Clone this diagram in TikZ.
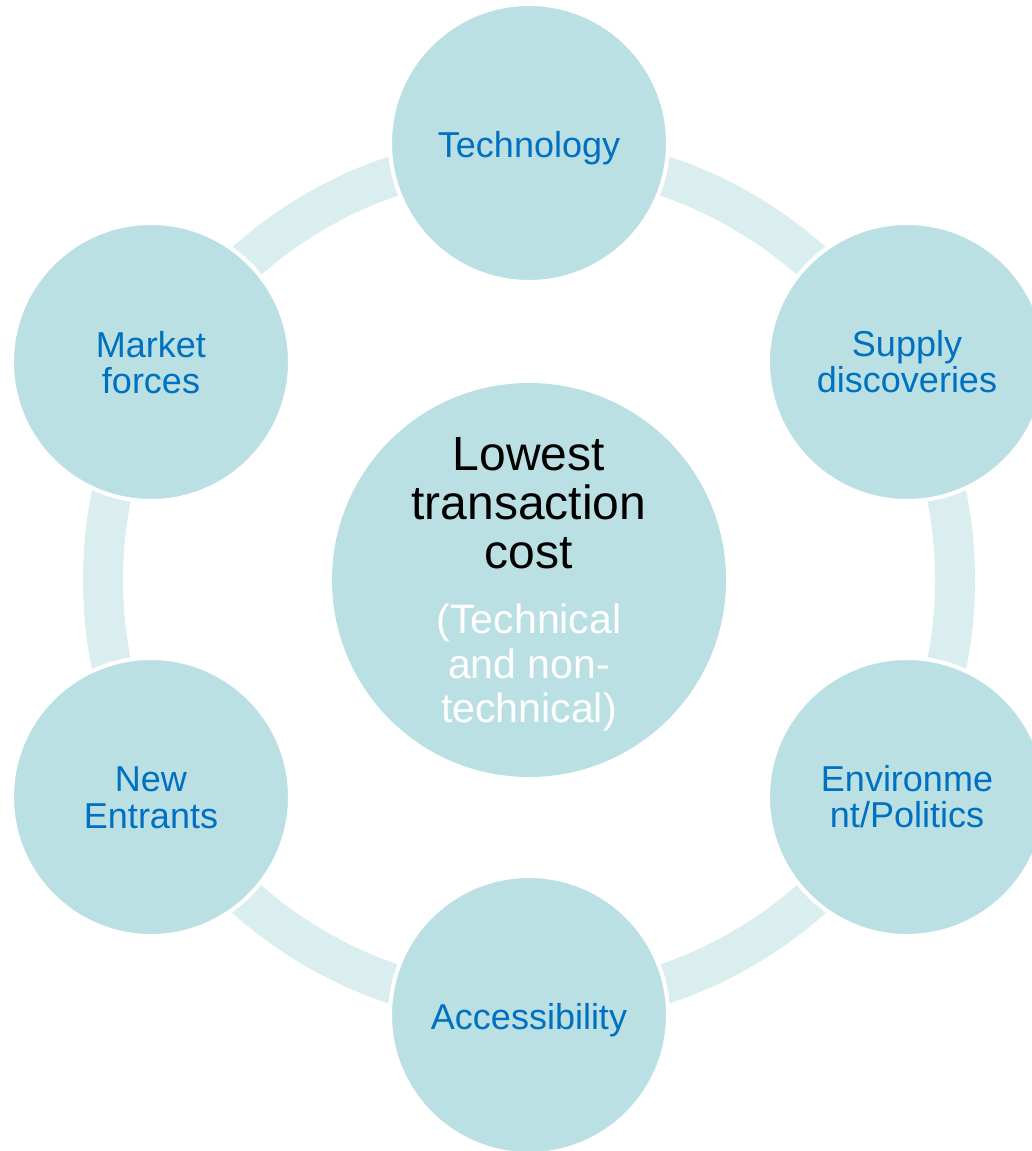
\documentclass[tikz,border=0pt]{standalone}
\usepackage{fontspec}
\setmainfont{Liberation Sans}
\definecolor{fillc}{HTML}{BBE0E3}
\definecolor{ringc}{HTML}{DAEEF0}
\definecolor{txtb}{HTML}{0070C0}
\begin{document}
\begin{tikzpicture}[x=1pt,y=-1pt,
  outer/.style={circle,fill=fillc,draw=white,line width=4pt,minimum size=278pt,inner sep=0pt},
  inner/.style={circle,fill=fillc,minimum size=394pt,inner sep=0pt},
  lbl/.style={anchor=north,align=center,inner sep=0pt,text=txtb,font=\fontsize{36}{36.5}\selectfont},
  mainlbl/.style={anchor=north,align=center,inner sep=0pt,text=black,font=\fontsize{48}{49}\selectfont},
  sublbl/.style={anchor=north,align=center,inner sep=0pt,text=white,font=\fontsize{41}{44.5}\selectfont}]
\useasboundingbox (0,0) rectangle (1031,1151);
\coordinate (c) at (529,580);
\draw[ringc,line width=40pt] (c) circle (426pt);
\node[inner] (center) at (c) {};
\node[outer] (tech) at (529,143) {};
\node[outer] (supply) at (907,362) {};
\node[outer] (env) at (907,797) {};
\node[outer] (acc) at (529,1015) {};
\node[outer] (new) at (151,797) {};
\node[outer] (market) at (151,362) {};
\node[lbl] (techt) at (529,131) {Technology};
\node[lbl] (supplyt) at (907,330) {Supply\\discoveries};
\node[lbl] (envt) at (907,765) {Environme\\nt/Politics};
\node[lbl] (acct) at (529,1003) {Accessibility};
\node[lbl] (newt) at (151,767) {New\\Entrants};
\node[lbl] (markett) at (151,331) {Market\\forces};
\node[mainlbl] (maint) at (529,437) {Lowest\\transaction\\cost};
\node[sublbl] (subt) at (529,604) {(Technical\\and non-\\technical)};
\end{tikzpicture}
\end{document}
